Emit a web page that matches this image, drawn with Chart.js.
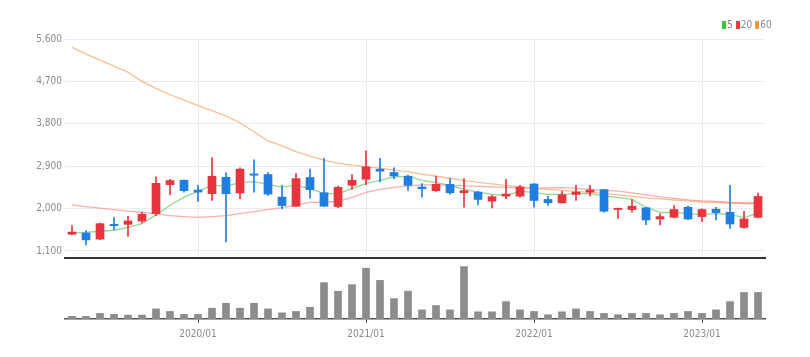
<!DOCTYPE html>
<html>
<head>
<meta charset="utf-8">
<script src="https://cdn.jsdelivr.net/npm/chart.js@4.4.0/dist/chart.umd.min.js"></script>
<style>
  html,body{margin:0;padding:0;background:#fff;}
  body{width:810px;height:357px;position:relative;overflow:hidden;font-family:'Liberation Sans Narrow','DejaVu Sans Condensed',sans-serif;}
  #pWrap{position:absolute;left:0;top:0;width:810px;height:267px;}
  #vWrap{position:absolute;left:0;top:258px;width:810px;height:99px;}
  #legend{position:absolute;top:20px;left:722px;font-size:10px;color:#888;line-height:10px;white-space:nowrap;}
  #legend span.sw{display:inline-block;width:4px;height:8px;vertical-align:-1px;margin-right:1px;}
  #legend span.tx{margin-right:3px;}
</style>
</head>
<body>
<div id="vWrap"><canvas id="vol"></canvas></div>
<div id="pWrap"><canvas id="price"></canvas></div>
<div id="legend"><span class="sw" style="background:#3cc43c"></span><span class="tx">5</span><span class="sw" style="background:#f03c3c"></span><span class="tx">20</span><span class="sw" style="background:#f59a3c"></span><span class="tx">60</span></div>
<script>
const months = ['2019/04','2019/05','2019/06','2019/07','2019/08','2019/09','2019/10','2019/11','2019/12',
 '2020/01','2020/02','2020/03','2020/04','2020/05','2020/06','2020/07','2020/08','2020/09','2020/10','2020/11','2020/12',
 '2021/01','2021/02','2021/03','2021/04','2021/05','2021/06','2021/07','2021/08','2021/09','2021/10','2021/11','2021/12',
 '2022/01','2022/02','2022/03','2022/04','2022/05','2022/06','2022/07','2022/08','2022/09','2022/10','2022/11','2022/12',
 '2023/01','2023/02','2023/03','2023/04','2023/05'];
const openP  = [1455,1480,1351,1664,1664,1736,1893,2508,2600,2393,2315,2664,2328,2735,2722,2243,2049,2658,2336,2043,2493,2621,2836,2765,2686,2457,2379,2514,2336,2350,2157,2264,2264,2521,2193,2122,2300,2350,2401,1979,1979,2015,1779,1814,2028,1829,1985,1921,1599,1814];
const closeP = [1500,1335,1679,1636,1736,1878,2536,2594,2379,2350,2686,2315,2836,2707,2307,2064,2636,2401,2049,2450,2600,2886,2793,2692,2493,2422,2514,2336,2379,2193,2251,2307,2457,2171,2122,2294,2350,2393,1942,2006,2049,1758,1829,1979,1779,1979,1914,1672,1779,2257];
const highP  = [1640,1530,1693,1807,1835,1921,2671,2621,2610,2493,3078,2757,2864,3035,2765,2493,2744,2836,3065,2478,2722,3228,3065,2864,2710,2529,2692,2636,2636,2365,2279,2621,2493,2529,2257,2364,2493,2493,2410,2010,2193,2028,1886,2064,2050,1993,2028,2493,1942,2328];
const lowP   = [1440,1230,1340,1550,1406,1694,1850,2294,2350,2150,2171,1293,2208,2350,2279,1993,2040,2221,2040,2021,2407,2508,2564,2636,2386,2243,2364,2307,2028,2079,2015,2208,2243,2028,2064,2115,2171,2264,1921,1792,1921,1657,1651,1800,1765,1728,1758,1578,1578,1800];
const volume = [2.7,2.7,5.7,4.7,4,4,10.3,7.7,4.7,4.7,11,16,11,16,10.3,6.3,7.7,12,37,28.3,35,51.7,39.3,20.7,28.3,9.3,13.7,9.3,53.3,7.3,7.3,17.7,9.3,7.7,4.3,7.3,10.3,7.7,5.7,4.3,5.7,5.7,4.3,5.7,7.7,5.7,9.3,17.7,27,27];
const ma5  = [1486,1496,1518,1539,1599,1679,1865,2064,2242,2364,2493,2478,2551,2572,2514,2457,2493,2422,2315,2315,2422,2529,2600,2671,2686,2600,2551,2493,2407,2349,2300,2279,2364,2343,2300,2300,2315,2315,2268,2236,2193,2028,1914,1921,1893,1871,1893,1871,1807,1904];
const ma20 = [2079,2043,2011,1979,1946,1921,1886,1850,1829,1814,1829,1850,1893,1936,1979,2021,2075,2129,2139,2150,2236,2343,2407,2450,2482,2504,2504,2493,2482,2471,2461,2450,2439,2429,2439,2443,2429,2407,2386,2371,2332,2289,2246,2214,2182,2161,2150,2129,2118,2118];
const ma60 = [5422,5279,5150,5022,4893,4700,4550,4422,4304,4186,4079,3961,3822,3629,3436,3329,3211,3114,3029,2964,2922,2889,2857,2814,2782,2729,2686,2643,2600,2557,2525,2493,2461,2429,2407,2386,2364,2343,2321,2289,2257,2225,2204,2182,2161,2139,2129,2118,2107,2107];
const priceTicks = [1100,2000,2900,3800,4700,5600];

const UP = '#e8343c', DOWN = '#1f7ee0';
const FONT = "'Liberation Sans Narrow','DejaVu Sans Condensed',sans-serif";
const isYear = i => months[i] && months[i].endsWith('/01');
const candleColor = months.map((m,i)=> closeP[i] >= openP[i] ? UP : DOWN);

const priceChart = new Chart(document.getElementById('price'), {
  type: 'bar',
  data: {
    labels: months,
    datasets: [
      {type:'line', label:'5', data: ma5, borderColor:'rgba(120,205,120,0.8)', borderWidth:1.3, pointRadius:0, tension:0, order:3},
      {type:'line', label:'20', data: ma20, borderColor:'rgba(245,140,140,0.7)', borderWidth:1.3, pointRadius:0, tension:0, order:4},
      {type:'line', label:'60', data: ma60, borderColor:'rgba(245,175,120,0.8)', borderWidth:1.3, pointRadius:0, tension:0, order:5},
      {label:'wick', data: months.map((m,i)=>[lowP[i], highP[i]]), backgroundColor: candleColor, barThickness:1, grouped:false, order:2},
      {label:'body', data: months.map((m,i)=>[openP[i], closeP[i]]), backgroundColor: candleColor, barThickness:8, grouped:false, order:1}
    ]
  },
  options: {
    responsive:true, maintainAspectRatio:false, animation:false,
    layout:{padding:{top:39, right:45, bottom:2, left:0}},
    plugins:{legend:{display:false}, tooltip:{enabled:false}},
    scales:{
      x:{
        offset:true,
        ticks:{display:false, autoSkip:false},
        grid:{offset:false, drawTicks:false, color: c => isYear(c.index) ? '#e9e9e9' : 'rgba(0,0,0,0)', lineWidth:1},
        border:{display:true, color:'#333', width:2}
      },
      y:{
        min:950, max:5600,
        afterFit: s => { s.width = 65; },
        afterBuildTicks: s => { s.ticks = priceTicks.map(v=>({value:v})); },
        ticks:{padding:3, color:'#8a8a8a', font:{family:FONT, size:10}, callback: v => v.toLocaleString('en-US')},
        grid:{color:'#ececec', drawTicks:false},
        border:{display:false}
      }
    }
  }
});

const volChart = new Chart(document.getElementById('vol'), {
  type:'bar',
  data:{
    labels: months,
    datasets:[{label:'volume', data: volume, backgroundColor:'#8c8c8c', barThickness:7}]
  },
  options:{
    responsive:true, maintainAspectRatio:false, animation:false,
    layout:{padding:{top:4, right:45, bottom:12, left:0}},
    plugins:{legend:{display:false}, tooltip:{enabled:false}},
    scales:{
      x:{
        offset:true,
        ticks:{autoSkip:false, maxRotation:0, color:'#8a8a8a', padding:5, font:{family:FONT, size:10},
               callback:(v,i)=> isYear(i) ? months[i] : ''},
        grid:{offset:false, drawOnChartArea:false, tickLength:4, color: c => isYear(c.index) ? '#555' : 'rgba(0,0,0,0)'},
        border:{display:true, color:'#555', width:1.5}
      },
      y:{
        min:0, max:58,
        afterFit: s => { s.width = 65; },
        ticks:{display:false},
        grid:{display:false},
        border:{display:false}
      }
    }
  }
});
</script>
</body>
</html>
